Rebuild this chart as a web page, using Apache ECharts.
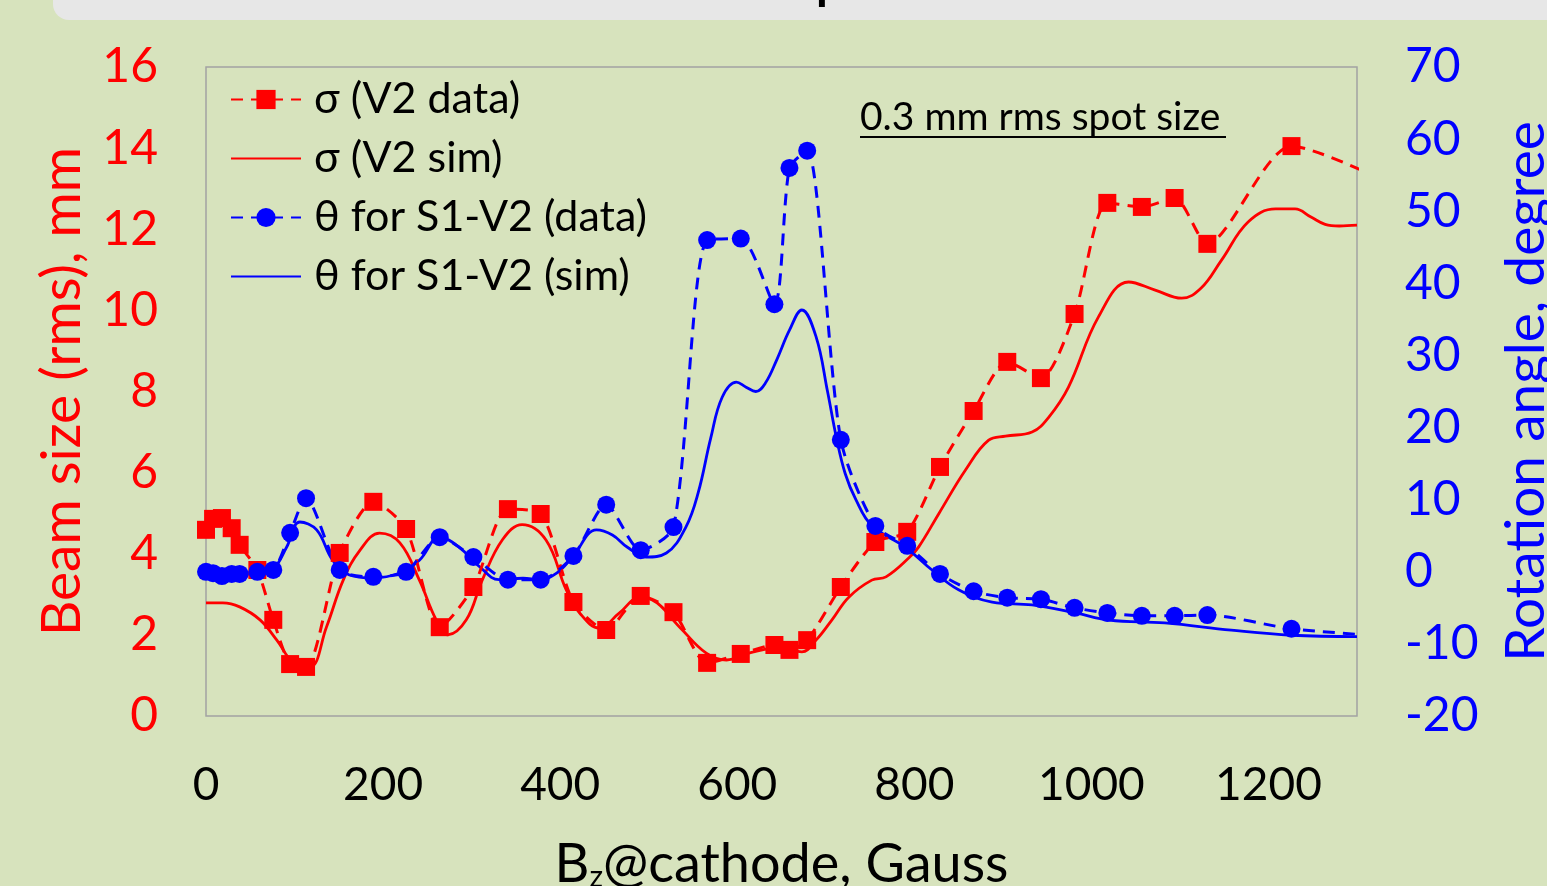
<!DOCTYPE html>
<html>
<head>
<meta charset="utf-8">
<title>Beam size and rotation angle vs Bz</title>
<script src="https://cdn.jsdelivr.net/npm/echarts@6/dist/echarts.min.js"></script>
<style>
  html, body { margin: 0; padding: 0; background: #d7e3bd; overflow: hidden; }
  #chart { width: 1547px; height: 886px; }
</style>
</head>
<body>
<div id="chart"></div>
<script>
// measured points (shared x for both data sets), Gauss
const bzData = [0, 8, 18, 29, 38, 58, 76, 95, 113, 151, 189, 226, 264, 302, 341, 378, 415, 452, 491, 528,
  566, 604, 642, 659, 679, 717, 756, 792, 829, 867, 905, 943, 981, 1018, 1057, 1094, 1131, 1226, 1350];
const sigmaData = [4.59, 4.86, 4.88, 4.63, 4.22, 3.6, 2.37, 1.28, 1.21, 4.02, 5.28, 4.61, 2.19, 3.18, 5.1, 4.98, 2.81, 2.12, 2.96, 2.56,
  1.31, 1.53, 1.75, 1.63, 1.87, 3.18, 4.29, 4.54, 6.14, 7.52, 8.73, 8.33, 9.91, 12.65, 12.55, 12.77, 11.64, 14.05, 13.0];
const thetaData = [0, -0.2, -0.6, -0.3, -0.3, 0, 0.25, 5.4, 10.2, 0.25, -0.7, 0, 4.8, 2.05, -1.1, -1.1, 2.2, 9.3, 3.0, 6.2,
  46.0, 46.2, 37.1, 56.0, 58.4, 18.3, 6.35, 3.6, -0.3, -2.7, -3.6, -3.8, -5.0, -5.7, -6.1, -6.1, -6.0, -7.9, -9.1];

// simulation curves
const bzSigmaSim = [0, 19, 38, 61, 80, 98, 117, 136, 155, 174, 196, 219, 241, 260, 273, 294, 312, 335, 357, 384, 407, 422, 444,
  467, 489, 504, 535, 565, 588, 613, 651, 673, 689, 707, 726, 752, 768, 794, 805, 828, 858, 884, 903, 933, 952, 974, 1008,
  1042, 1072, 1102, 1124, 1147, 1177, 1208, 1230, 1248, 1264, 1280, 1300];
const sigmaSim = [2.79, 2.79, 2.69, 2.37, 1.87, 1.33, 1.2, 2.19, 3.35, 4.09, 4.51, 4.27, 3.35, 2.37, 2.0, 2.37, 3.35, 4.35, 4.72,
  4.34, 3.1, 2.54, 2.17, 2.54, 2.91, 2.86, 2.19, 1.55, 1.38, 1.55, 1.7, 1.58, 1.87, 2.37, 2.93, 3.35, 3.43, 3.9, 4.17, 5.0,
  6.07, 6.8, 6.9, 7.0, 7.37, 8.1, 9.84, 10.7, 10.5, 10.3, 10.55, 11.24, 12.18, 12.5, 12.5, 12.3, 12.12, 12.08, 12.1];
const bzThetaSim = [0, 30, 58, 76, 91, 106, 125, 143, 162, 188, 219, 241, 264, 286, 309, 331, 358, 377, 396, 414, 441, 459, 476,
  497, 520, 542, 556, 570, 583, 599, 610, 621, 632, 645, 659, 673, 689, 702, 712, 722, 734, 752, 790, 820, 850, 888, 933, 982,
  1020, 1083, 1158, 1226, 1300];
const thetaSim = [-0.17, -0.44, -0.17, 0.4, 3.4, 6.9, 5.8, 1.6, -0.44, -0.86, -0.17, 1.6, 4.8, 3.4, 0.7, -1.1, -0.9, -1.1, -0.2,
  2.05, 5.8, 5.1, 3.4, 2.05, 2.6, 6.2, 11.0, 18.5, 24.2, 26.3, 25.6, 25.0, 26.2, 29.5, 33.5, 36.3, 32.6, 25.0, 18.6, 13.6, 10.0,
  6.4, 3.4, 0.25, -2.5, -4.2, -4.6, -5.7, -6.7, -7.1, -8.1, -8.8, -9.0];

const legendNames = ['σ (V2 data)', 'σ (V2 sim)', 'θ for S1-V2 (data)', 'θ for S1-V2 (sim)'];

const FONT = 'Lato';
const RED = '#ff0000';
const BLUE = '#0000ff';

function pairs(xs, ys) {
  return xs.map((x, i) => [x, ys[i]]);
}

const chart = echarts.init(document.getElementById('chart'));

// no symbol on the sim legend icons
const noMark = { color: 'transparent', borderWidth: 0 };

const option = {
  backgroundColor: '#d7e3bd',
  animation: false,
  textStyle: { fontFamily: FONT },
  grid: {
    left: 206, right: 190, top: 67, bottom: 170,
    outerBoundsMode: 'none', containLabel: false,
    show: true, borderColor: '#a3a3a3', borderWidth: 1.5, backgroundColor: 'transparent'
  },
  legend: {
    data: [
      { name: legendNames[0] },
      { name: legendNames[1], itemStyle: noMark },
      { name: legendNames[2] },
      { name: legendNames[3], itemStyle: noMark }
    ],
    orient: 'vertical',
    left: 230, top: 78, padding: 0,
    itemWidth: 70, itemHeight: 24, itemGap: 16,
    textStyle: { fontFamily: FONT, fontSize: 43, lineHeight: 40, color: '#000', padding: [0, 0, 0, 8] }
  },
  xAxis: {
    type: 'value', min: 0, max: 1300, interval: 200,
    axisLine: { show: false }, axisTick: { show: false }, splitLine: { show: false },
    axisLabel: { fontSize: 46, color: '#000', margin: 46, showMaxLabel: false, formatter: v => String(v) },
    name: '{b|B}{s|z}{b|@cathode, Gauss}',
    nameLocation: 'middle', nameGap: 122,
    nameTextStyle: {
      rich: {
        b: { fontFamily: FONT, fontSize: 54, color: '#000' },
        s: { fontFamily: FONT, fontSize: 30, color: '#000', padding: [24, 0, 0, 0] }
      }
    }
  },
  yAxis: [
    {
      type: 'value', min: 0, max: 16, interval: 2,
      axisLine: { show: false }, axisTick: { show: false }, splitLine: { show: false },
      axisLabel: { fontSize: 48, color: RED, margin: 48 },
      name: 'Beam size (rms), mm', nameLocation: 'middle', nameGap: 116,
      nameTextStyle: { fontSize: 55, color: RED, fontFamily: FONT }
    },
    {
      type: 'value', min: -20, max: 70, interval: 10,
      axisLine: { show: false }, axisTick: { show: false }, splitLine: { show: false },
      axisLabel: { fontSize: 48, color: BLUE, margin: 48 },
      name: 'Rotation angle, degree', nameLocation: 'middle', nameGap: 142, nameRotate: 90,
      nameTextStyle: { fontSize: 55, color: BLUE, fontFamily: FONT }
    }
  ],
  series: [
    {
      name: legendNames[0], type: 'line', yAxisIndex: 0,
      data: pairs(bzData, sigmaData),
      smooth: 0.25,
      symbol: 'rect', symbolSize: 18,
      itemStyle: { color: RED },
      lineStyle: { color: RED, width: 3, type: [12, 8] },
      z: 4
    },
    {
      name: legendNames[1], type: 'line', yAxisIndex: 0,
      data: pairs(bzSigmaSim, sigmaSim),
      smooth: 0.4, symbol: 'none',
      itemStyle: { color: RED },
      lineStyle: { color: RED, width: 2.8 },
      z: 3
    },
    {
      name: legendNames[2], type: 'line', yAxisIndex: 1,
      data: pairs(bzData, thetaData),
      smooth: 0.25,
      symbol: 'circle', symbolSize: 18,
      itemStyle: { color: BLUE },
      lineStyle: { color: BLUE, width: 3, type: [12, 8] },
      z: 4
    },
    {
      name: legendNames[3], type: 'line', yAxisIndex: 1,
      data: pairs(bzThetaSim, thetaSim),
      smooth: 0.4, symbol: 'none',
      itemStyle: { color: BLUE },
      lineStyle: { color: BLUE, width: 2.8 },
      z: 3
    }
  ],
  graphic: [
    // grey title strip at the top, mostly cut off
    {
      type: 'rect', left: 53, top: -30,
      shape: { width: 1600, height: 50, r: 16 },
      style: { fill: '#e7e7e7' }, z: 10
    },
    {
      type: 'text', left: 816, top: -40,
      style: { text: 'p', fontFamily: FONT, fontSize: 48, fontWeight: 'bold', fill: '#000' }, z: 11
    },
    {
      type: 'text', left: 860, top: 98,
      style: { text: '0.3 mm rms spot size', fontFamily: FONT, fontSize: 39, fill: '#000' }, z: 10
    },
    {
      type: 'line', shape: { x1: 860, y1: 137, x2: 1226, y2: 137 },
      style: { stroke: '#000', lineWidth: 2 }, z: 10
    }
  ]
};

chart.setOption(option);
</script>
</body>
</html>
